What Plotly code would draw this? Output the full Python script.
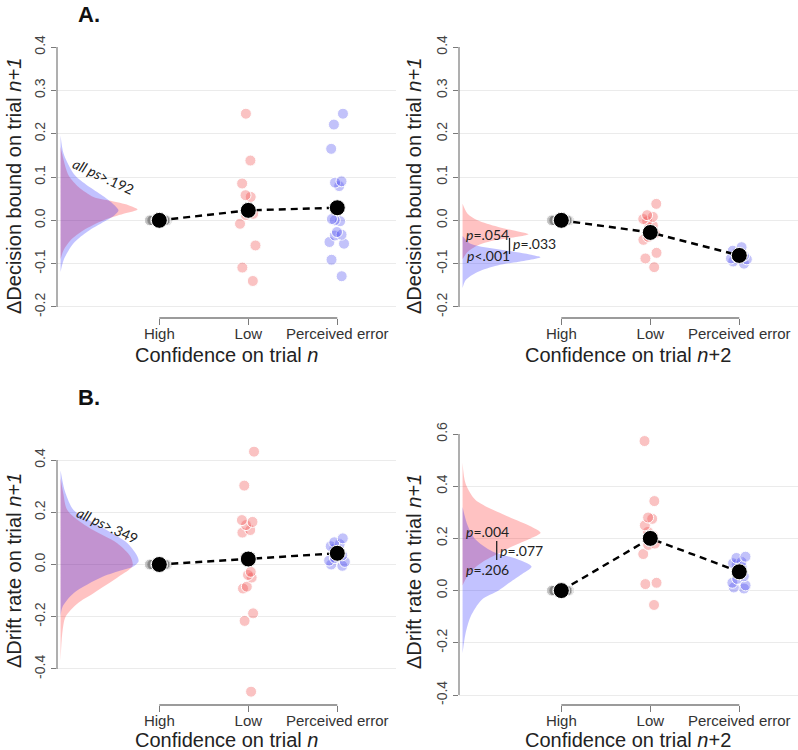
import plotly.graph_objects as go

# ---------------- data ----------------
categories = ["High", "Low", "Perceived error"]
cat_pos = [1, 2, 3]

# Panel A (left): decision bound, confidence on trial n
a1_high = [0, 0, 0, 0, 0, 0, 0, 0, 0, 0, 0, 0, 0, 0]
a1_low = [0.246, 0.138, 0.085, 0.058, 0.054, 0.023, 0.015, 0.012, -0.008, -0.058, -0.109, -0.140]
a1_err = [0.246, 0.221, 0.165, 0.087, 0.090, 0.079, -0.002, 0.000, 0.003, -0.027, -0.035,
          -0.033, -0.050, -0.054, -0.091, -0.129]
a1_means = [0.0, 0.023, 0.029]

# Panel A (right): decision bound, confidence on trial n+2
a2_high = [0, 0, 0, 0, 0, 0, 0, 0, 0, 0, 0, 0, 0, 0]
a2_low = [0.038, 0.012, 0.008, 0.003, -0.002, -0.012, -0.018, -0.030, -0.038, -0.045,
          -0.075, -0.088, -0.108]
a2_err = [-0.062, -0.070, -0.075, -0.078, -0.080, -0.082, -0.085, -0.088, -0.090, -0.095, -0.100]
a2_means = [0.0, -0.028, -0.081]

# Panel B (left): drift rate, confidence on trial n
b1_high = [0, 0, 0, 0, 0, 0, 0, 0, 0, 0, 0, 0, 0, 0]
b1_low = [0.432, 0.302, 0.170, 0.163, 0.151, 0.132, 0.122, 0.025, -0.028, -0.040, -0.050,
          -0.085, -0.092, -0.187, -0.216, -0.487]
b1_err = [0.100, 0.085, 0.078, 0.070, 0.060, 0.050, 0.045, 0.035, 0.025, 0.015, 0.010, 0.000, -0.005]
b1_means = [0.0, 0.021, 0.043]

# Panel B (right): drift rate, confidence on trial n+2
b2_high = [0, 0, 0, 0, 0, 0, 0, 0, 0, 0, 0, 0, 0, 0]
b2_low = [0.573, 0.343, 0.280, 0.275, 0.250, 0.225, 0.210, 0.190, 0.180, 0.175, 0.140,
          0.030, 0.025, -0.055]
b2_err = [0.130, 0.125, 0.110, 0.105, 0.100, 0.090, 0.070, 0.055, 0.045, 0.030, 0.020, 0.012, 0.008]
b2_means = [0.0, 0.200, 0.072]

# Posterior densities (value, relative density height)
a1_red_y = [0.170, 0.154, 0.115, 0.100, 0.077, 0.054, 0.045, 0.035, 0.025, 0.015, 0.0, -0.023, -0.046, -0.069, -0.090]
a1_red_d = [0, 1.5, 6, 9, 18, 33, 50, 68, 77, 63, 43, 23, 10, 3, 0]
a1_blue_y = [0.196, 0.154, 0.115, 0.100, 0.077, 0.054, 0.035, 0.023, 0.012, 0.0, -0.023, -0.046, -0.062, -0.092, -0.119]
a1_blue_d = [0, 3, 11, 16, 29, 44, 54, 58, 54, 46, 29, 16, 10, 3, 0]

a2_red_y = [0.038, 0.015, 0.0, -0.015, -0.027, -0.032, -0.038, -0.046, -0.058, -0.073, -0.090]
a2_red_d = [0, 5, 15, 35, 58, 66, 55, 32, 15, 5, 0]
a2_blue_y = [-0.036, -0.054, -0.069, -0.081, -0.085, -0.092, -0.104, -0.119, -0.138, -0.156]
a2_blue_d = [0, 8, 42, 72, 78, 65, 35, 15, 3, 0]

b1_red_y = [0.33, 0.273, 0.209, 0.145, 0.081, 0.03, -0.006, -0.047, -0.11, -0.149, -0.2, -0.264, -0.37]
b1_red_d = [0, 2.7, 6.7, 26.7, 56.7, 70, 72, 58, 33, 17, 5, 1.7, 0]
b1_blue_y = [0.36, 0.30, 0.273, 0.209, 0.145, 0.081, 0.03, 0.011, -0.01, -0.021, -0.047, -0.11, -0.162, -0.2]
b1_blue_d = [0, 3, 5, 13, 40, 67, 77, 78, 72, 62, 42, 13, 2, 0]

b2_red_y = [0.49, 0.41, 0.347, 0.283, 0.245, 0.222, 0.2, 0.17, 0.14, 0.11, 0.08, 0.05, 0.02]
b2_red_d = [0, 3, 13, 46, 69, 78, 68, 50, 35, 20, 10, 4, 0]
b2_blue_y = [0.32, 0.25, 0.2, 0.15, 0.12, 0.092, 0.06, 0.028, 0.0, -0.036, -0.1, -0.164, -0.24]
b2_blue_d = [0, 5, 12, 30, 55, 69, 58, 46, 36, 19, 8, 3, 0]

a_ticks = [-0.2, -0.1, 0.0, 0.1, 0.2, 0.3, 0.4]
a_ticktext = ["-0.2", "-0.1", "0.0", "0.1", "0.2", "0.3", "0.4"]
b1_ticks = [-0.4, -0.2, 0.0, 0.2, 0.4]
b1_ticktext = ["-0.4", "-0.2", "0.0", "0.2", "0.4"]
b2_ticks = [-0.4, -0.2, 0.0, 0.2, 0.4, 0.6]
b2_ticktext = ["-0.4", "-0.2", "0.0", "0.2", "0.4", "0.6"]

# ---------------- styling ----------------
W, H = 798, 750
FONT = "Liberation Sans"
ANN_FONT = "Lato"
PT_RED = "rgba(240,70,70,0.33)"
PT_BLUE = "rgba(70,70,240,0.33)"
PT_GRAY = "rgba(110,110,110,0.35)"
DEN_RED = "rgba(255,0,0,0.24)"
DEN_BLUE = "rgba(0,0,255,0.24)"
AX_COL = "#7a7a7a"
DENS_BASE = -0.11
DENS_SCALE = 1 / 89.0
XRANGE = [-0.15, 3.66]


def px(x):
    return x / W


def py(y):
    return 1 - y / H


left_dom = [px(57), px(396)]
right_dom = [px(459), 1.0]


def xpaper(dom, v):
    """Paper x of data value v on an x axis with domain dom and range XRANGE."""
    return dom[0] + (v - XRANGE[0]) / (XRANGE[1] - XRANGE[0]) * (dom[1] - dom[0])


fig = go.Figure()

panels = [
    dict(ax="", high=a1_high, low=a1_low, err=a1_err, means=a1_means, dom=left_dom,
         red=(a1_red_y, a1_red_d), blue=(a1_blue_y, a1_blue_d), ylo=-0.2, yhi=0.4, xline=318),
    dict(ax="2", high=a2_high, low=a2_low, err=a2_err, means=a2_means, dom=right_dom,
         red=(a2_red_y, a2_red_d), blue=(a2_blue_y, a2_blue_d), ylo=-0.2, yhi=0.4, xline=318),
    dict(ax="3", high=b1_high, low=b1_low, err=b1_err, means=b1_means, dom=left_dom,
         red=(b1_red_y, b1_red_d), blue=(b1_blue_y, b1_blue_d), ylo=-0.4, yhi=0.4, xline=705),
    dict(ax="4", high=b2_high, low=b2_low, err=b2_err, means=b2_means, dom=right_dom,
         red=(b2_red_y, b2_red_d), blue=(b2_blue_y, b2_blue_d), ylo=-0.4, yhi=0.6, xline=705),
]

shapes = []
for p in panels:
    xa, ya = "x" + p["ax"], "y" + p["ax"]
    # densities
    for (yy, dd), col in ((p["red"], DEN_RED), (p["blue"], DEN_BLUE)):
        fig.add_trace(go.Scatter(
            x=[DENS_BASE + d * DENS_SCALE for d in dd], y=yy,
            mode="lines", fill="toself", fillcolor=col,
            line=dict(width=0, shape="spline", smoothing=0.8),
            hoverinfo="skip", xaxis=xa, yaxis=ya))
    # jittered participant points
    for vals, pos, col in ((p["high"], cat_pos[0], PT_GRAY),
                           (p["low"], cat_pos[1], PT_RED),
                           (p["err"], cat_pos[2], PT_BLUE)):
        fig.add_trace(go.Box(
            x=[pos] * len(vals), y=vals, boxpoints="all", jitter=1.0, pointpos=0,
            width=0.22, fillcolor="rgba(0,0,0,0)",
            line=dict(color="rgba(0,0,0,0)", width=0), whiskerwidth=0,
            marker=dict(size=11, color=col, line=dict(color="white", width=1)),
            xaxis=xa, yaxis=ya))
    # mean line and means
    fig.add_trace(go.Scatter(
        x=cat_pos, y=p["means"], mode="lines",
        line=dict(color="black", width=2.4, dash="7px,5px"),
        xaxis=xa, yaxis=ya))
    fig.add_trace(go.Scatter(
        x=cat_pos, y=p["means"], mode="markers",
        marker=dict(size=16, color="black", line=dict(color="white", width=1)),
        xaxis=xa, yaxis=ya))
    # R-style y axis line spanning the ticks
    shapes.append(dict(type="line", xref=xa + " domain", yref=ya, x0=0, x1=0,
                       y0=p["ylo"], y1=p["yhi"], line=dict(color=AX_COL, width=1.2)))
    # R-style x axis line from first to last category
    shapes.append(dict(type="line", xref="paper", yref="paper",
                       x0=xpaper(p["dom"], cat_pos[0]), x1=xpaper(p["dom"], cat_pos[-1]),
                       y0=py(p["xline"]), y1=py(p["xline"]), line=dict(color=AX_COL, width=1.3)))

# p-value bars
shapes.append(dict(type="line", xref="paper", yref="paper", x0=px(509.5), x1=px(509.5),
                   y0=py(238), y1=py(254), line=dict(color="#222", width=1.3)))
shapes.append(dict(type="line", xref="paper", yref="paper", x0=px(496.7), x1=px(496.7),
                   y0=py(541), y1=py(560), line=dict(color="#222", width=1.3)))


def yaxis(dom, rng, tv, tt, anchor):
    return dict(domain=dom, range=rng, tickvals=tv, ticktext=tt, tickangle=-90,
                anchor=anchor, automargin=False, ticks="outside", ticklen=5,
                tickcolor=AX_COL, showline=False,
                showgrid=True, gridcolor="#ebebeb", gridwidth=1, zeroline=False,
                tickfont=dict(family=FONT, size=14, color="#444"))


def xaxis(dom, anchor):
    return dict(domain=dom, range=XRANGE, anchor=anchor, automargin=False,
                tickvals=cat_pos, ticktext=categories, ticks="outside", ticklen=6,
                ticklabelstandoff=-4,
                tickcolor=AX_COL, showline=False, showgrid=False, zeroline=False,
                tickfont=dict(family=FONT, size=15, color="#333"))


annotations = []


def ann(text, x, y, size, angle=0, family=FONT, color="#222"):
    annotations.append(dict(text=text, x=px(x), y=py(y), xref="paper", yref="paper",
                            showarrow=False, textangle=angle, xanchor="center",
                            yanchor="middle", font=dict(family=family, size=size, color=color)))


ann("<b>A.</b>", 89, 14, 22, color="#111")
ann("<b>B.</b>", 89, 397, 22, color="#111")
ann("ΔDecision bound on trial <i>n+1</i>", 14, 186, 20, angle=-90)
ann("ΔDecision bound on trial <i>n+1</i>", 414, 186, 20, angle=-90)
ann("ΔDrift rate on trial <i>n+1</i>", 14, 571, 20, angle=-90)
ann("ΔDrift rate on trial <i>n+1</i>", 414, 572, 20, angle=-90)
ann("Confidence on trial <i>n</i>", 226, 355, 20)
ann("Confidence on trial <i>n</i>+2", 628, 355, 20)
ann("Confidence on trial <i>n</i>", 226, 740, 20)
ann("Confidence on trial <i>n</i>+2", 628, 740, 20)
ann("<i>all ps</i>>.192", 104, 176, 14, angle=25, family=ANN_FONT)
ann("<i>all ps</i>>.349", 108, 525, 14, angle=25, family=ANN_FONT)
ann("<i>p</i>=.054", 487.5, 234, 14, family=ANN_FONT)
ann("<i>p</i><.001", 488, 256, 14, family=ANN_FONT)
ann("<i>p</i>=.033", 534, 243.5, 14, family=ANN_FONT)
ann("<i>p</i>=.004", 487.5, 531.5, 14, family=ANN_FONT)
ann("<i>p</i>=.206", 487.5, 569, 14, family=ANN_FONT)
ann("<i>p</i>=.077", 521, 550, 14, family=ANN_FONT)

fig.update_layout(
    width=W, height=H, margin=dict(l=0, r=0, t=0, b=0, autoexpand=False),
    paper_bgcolor="white", plot_bgcolor="white", showlegend=False,
    boxmode="overlay",
    xaxis=xaxis(left_dom, "y"),
    xaxis2=xaxis(right_dom, "y2"),
    xaxis3=xaxis(left_dom, "y3"),
    xaxis4=xaxis(right_dom, "y4"),
    # domains extend down to the (offset) x-axis line; ranges keep tick spacing of the reference
    yaxis=yaxis([py(318), py(47)], [-0.2254, 0.4], a_ticks, a_ticktext, "x"),
    yaxis2=yaxis([py(318), py(47)], [-0.2254, 0.4], a_ticks, a_ticktext, "x2"),
    yaxis3=yaxis([py(705), py(445)], [-0.538, 0.4575], b1_ticks, b1_ticktext, "x3"),
    yaxis4=yaxis([py(705), py(434)], [-0.4383, 0.6], b2_ticks, b2_ticktext, "x4"),
    shapes=shapes, annotations=annotations,
)

fig.write_html("out.html", post_script="document.body.style.margin='0';",
               config={"displayModeBar": False})
